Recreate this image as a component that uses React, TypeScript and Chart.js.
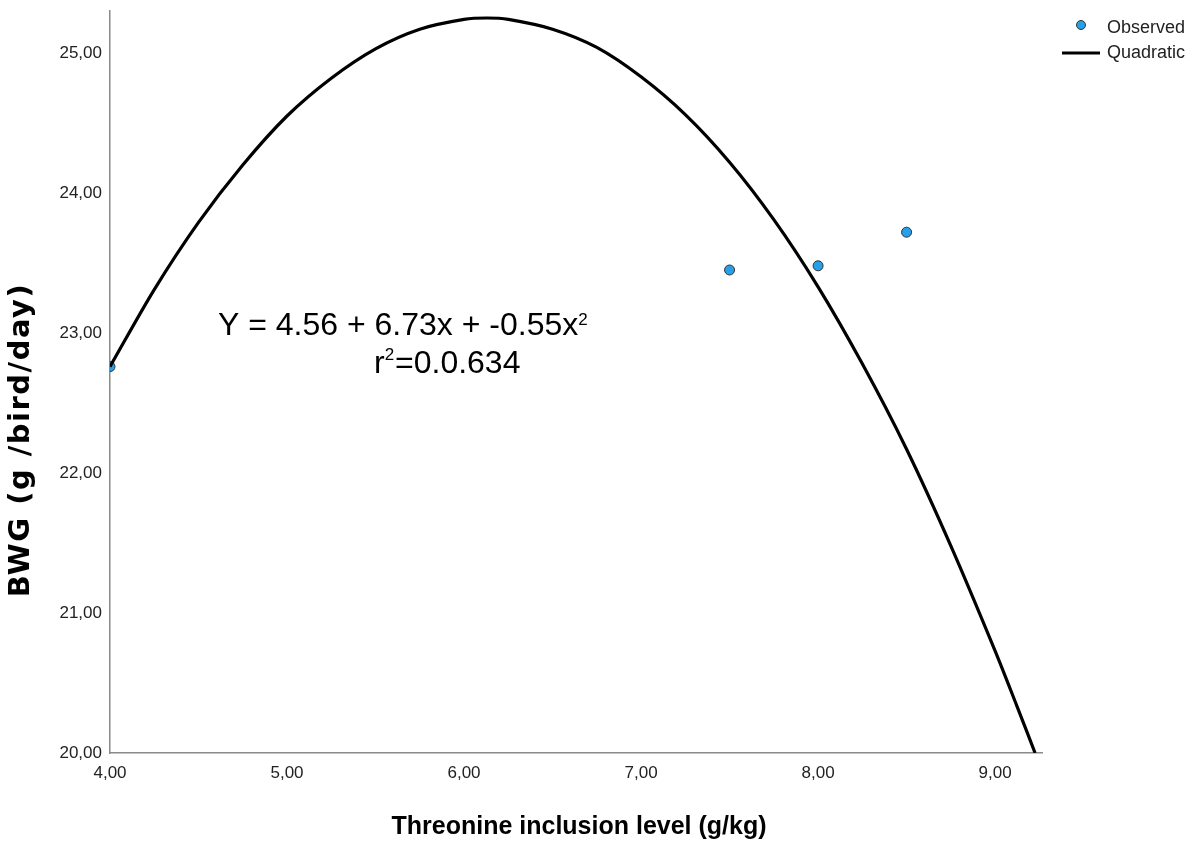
import { useEffect, useRef } from 'react';
import { Chart, registerables } from 'chart.js';

Chart.register(...registerables);

// Observed data points
const observedX = [4.0, 7.5, 8.0, 8.5];
const observedY = [22.76, 23.45, 23.48, 23.72];

// Fitted quadratic curve
const curveX = [4.0, 4.25, 4.5, 4.75, 5.0, 5.25, 5.5, 5.75, 6.0, 6.13, 6.25, 6.5, 6.75, 7.0, 7.25, 7.5, 7.75, 8.0, 8.25, 8.5, 8.75, 9.0, 9.125, 9.226];
const curveY = [22.76, 23.31, 23.79, 24.2, 24.55, 24.82, 25.03, 25.17, 25.24, 25.25, 25.24, 25.17, 25.04, 24.83, 24.56, 24.22, 23.81, 23.33, 22.78, 22.17, 21.48, 20.73, 20.33, 20.0];

// Axis ticks
const xTickValues = [4, 5, 6, 7, 8, 9];
const xTickLabels = ['4,00', '5,00', '6,00', '7,00', '8,00', '9,00'];
const yTickValues = [20, 21, 22, 23, 24, 25];
const yTickLabels = ['20,00', '21,00', '22,00', '23,00', '24,00', '25,00'];

// Texts
const xAxisTitle = 'Threonine inclusion level (g/kg)';
const yAxisTitle = 'BWG (g /bird/day)';
const legendLabels = ['Observed', 'Quadratic'];
const equationMain = 'Y = 4.56 + 6.73x + -0.55x';
const equationSup = '2';
const rSquaredPrefix = 'r';
const rSquaredSup = '2';
const rSquaredValue = '=0.0.634';

const POINT_FILL = '#27a0ec';
const POINT_BORDER = '#333333';
const AXIS_COLOR = '#8a8a8a';
const TICK_FONT = '"Liberation Sans Narrow", "Liberation Sans", Arial, sans-serif';

const overlayPlugin = {
  id: 'overlay',
  afterDraw(chart: any) {
    const ctx = chart.ctx as CanvasRenderingContext2D;
    ctx.save();
    ctx.fillStyle = '#000';

    // Y axis title
    ctx.save();
    ctx.translate(21, 440);
    ctx.rotate(-Math.PI / 2);
    ctx.textAlign = 'center';
    ctx.textBaseline = 'middle';
    ctx.font = 'bold 29px "DejaVu Sans", sans-serif';
    (ctx as any).letterSpacing = '1.5px';
    ctx.fillText(yAxisTitle, 0, 0);
    (ctx as any).letterSpacing = '0px';
    ctx.restore();

    // X axis title
    ctx.textAlign = 'center';
    ctx.textBaseline = 'middle';
    ctx.font = 'bold 25px "Liberation Sans", Arial, sans-serif';
    ctx.fillText(xAxisTitle, 579, 827);

    // Equation
    ctx.textAlign = 'left';
    ctx.textBaseline = 'alphabetic';
    ctx.font = '32px "Liberation Sans", Arial, sans-serif';
    ctx.fillText(equationMain, 218, 335);
    const w1 = ctx.measureText(equationMain).width;
    ctx.font = '17px "Liberation Sans", Arial, sans-serif';
    ctx.fillText(equationSup, 218 + w1, 325);

    ctx.font = '32px "Liberation Sans", Arial, sans-serif';
    ctx.fillText(rSquaredPrefix, 374, 373);
    const wr = ctx.measureText(rSquaredPrefix).width;
    ctx.font = '17px "Liberation Sans", Arial, sans-serif';
    ctx.fillText(rSquaredSup, 374 + wr, 360);
    ctx.font = '32px "Liberation Sans", Arial, sans-serif';
    ctx.fillText(rSquaredValue, 395, 373);

    // Legend
    ctx.beginPath();
    ctx.arc(1081, 25, 4.5, 0, Math.PI * 2);
    ctx.fillStyle = POINT_FILL;
    ctx.fill();
    ctx.lineWidth = 1;
    ctx.strokeStyle = POINT_BORDER;
    ctx.stroke();

    ctx.beginPath();
    ctx.moveTo(1062, 53);
    ctx.lineTo(1100, 53);
    ctx.lineWidth = 3;
    ctx.strokeStyle = '#000';
    ctx.stroke();

    ctx.fillStyle = '#222';
    ctx.font = `18px ${TICK_FONT}`;
    ctx.textBaseline = 'middle';
    ctx.fillText(legendLabels[0], 1107, 28);
    ctx.fillText(legendLabels[1], 1107, 53);

    ctx.restore();
  },
};

export default function App() {
  const canvasRef = useRef<HTMLCanvasElement | null>(null);

  useEffect(() => {
    if (!canvasRef.current) return;
    const chart = new Chart(canvasRef.current, {
      type: 'scatter',
      data: {
        datasets: [
          {
            label: legendLabels[1],
            data: curveX.map((x, i) => ({ x, y: curveY[i] })),
            showLine: true,
            borderColor: '#000',
            borderWidth: 3.2,
            pointRadius: 0,
            tension: 0.3,
            order: 0,
            clip: 0,
          },
          {
            label: legendLabels[0],
            data: observedX.map((x, i) => ({ x, y: observedY[i] })),
            showLine: false,
            backgroundColor: POINT_FILL,
            borderColor: POINT_BORDER,
            borderWidth: 1,
            pointRadius: 5,
            order: 1,
            clip: 0,
          },
        ],
      },
      options: {
        responsive: false,
        animation: false,
        layout: { padding: { left: 0, top: 11, right: 160, bottom: 0 } },
        plugins: {
          legend: { display: false },
          tooltip: { enabled: false },
        },
        scales: {
          x: {
            type: 'linear',
            min: 4,
            max: 9.265,
            grid: { display: false, drawTicks: false },
            border: { display: true, color: AXIS_COLOR, width: 1.5 },
            afterBuildTicks: (scale: any) => {
              scale.ticks = xTickValues.map((v) => ({ value: v }));
            },
            afterFit: (scale: any) => {
              scale.height = 92;
              scale.paddingLeft = 0;
              scale.paddingRight = 0;
            },
            ticks: {
              padding: 10,
              color: '#222',
              font: { family: TICK_FONT, size: 17 },
              maxRotation: 0,
              autoSkip: false,
              callback: (v: any) => {
                const i = xTickValues.indexOf(Number(v));
                return i >= 0 ? xTickLabels[i] : '';
              },
            },
          },
          y: {
            type: 'linear',
            min: 20,
            max: 25.3,
            grid: { display: false, drawTicks: false },
            border: { display: true, color: AXIS_COLOR, width: 1.5 },
            afterBuildTicks: (scale: any) => {
              scale.ticks = yTickValues.map((v) => ({ value: v }));
            },
            afterFit: (scale: any) => {
              scale.width = 110;
              scale.paddingTop = 0;
              scale.paddingBottom = 0;
            },
            ticks: {
              padding: 8,
              color: '#222',
              font: { family: TICK_FONT, size: 17 },
              autoSkip: false,
              callback: (v: any) => {
                const i = yTickValues.indexOf(Number(v));
                return i >= 0 ? yTickLabels[i] : '';
              },
            },
          },
        },
      },
      plugins: [overlayPlugin],
    });
    return () => chart.destroy();
  }, []);

  return (
    <div style={{ position: 'fixed', left: 0, top: 0, width: 1202, height: 845, background: '#fff' }}>
      <canvas ref={canvasRef} width={1202} height={845} style={{ width: 1202, height: 845 }} />
    </div>
  );
}
